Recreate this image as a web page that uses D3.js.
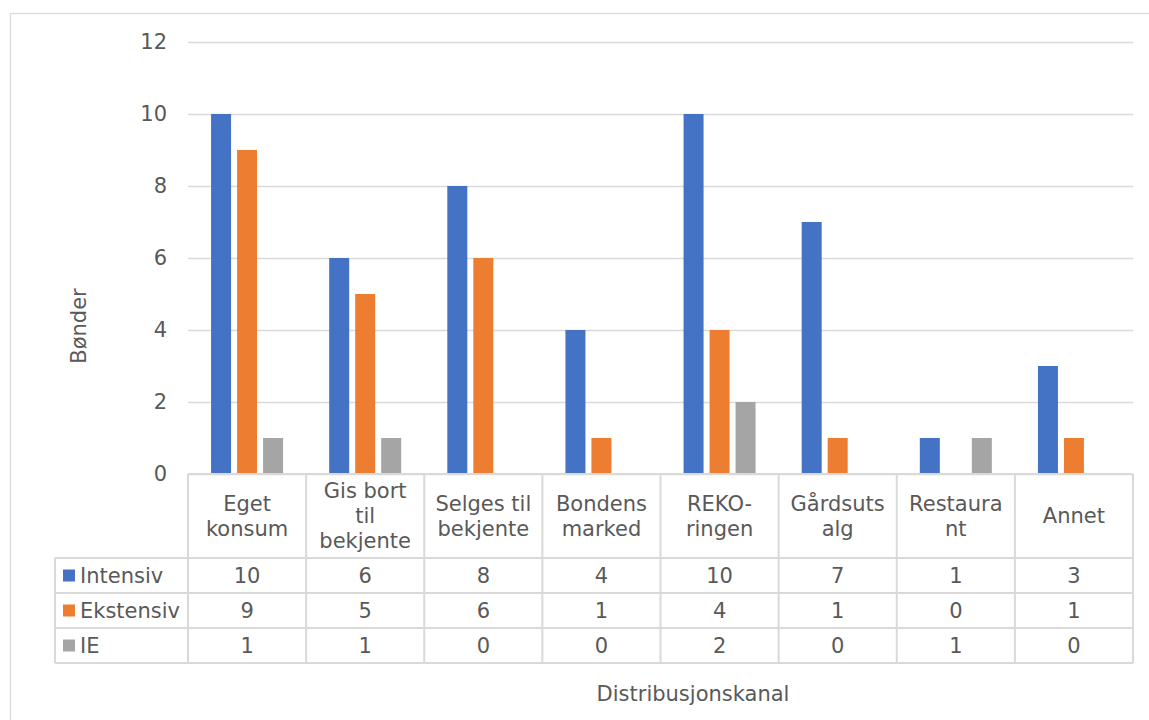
<!DOCTYPE html>
<html>
<head>
<meta charset="utf-8">
<script src="https://cdn.jsdelivr.net/npm/d3@7"></script>
<style>
  html, body { margin: 0; padding: 0; background: #fff; }
  svg { display: block; }
  text { font-family: "DejaVu Sans", Verdana, sans-serif; fill: #595959; }
</style>
</head>
<body>
<svg id="chart" width="1149" height="720"></svg>
<script>
const categories = ["Eget konsum", "Gis bort til bekjente", "Selges til bekjente", "Bondens marked", "REKO-ringen", "Gårdsutsalg", "Restaurant", "Annet"];
const categoryLines = [["Eget", "konsum"], ["Gis bort", "til", "bekjente"], ["Selges til", "bekjente"], ["Bondens", "marked"], ["REKO-", "ringen"], ["Gårdsuts", "alg"], ["Restaura", "nt"], ["Annet"]];
const seriesNames = ["Intensiv", "Ekstensiv", "IE"];
const intensiv = [10, 6, 8, 4, 10, 7, 1, 3];
const ekstensiv = [9, 5, 6, 1, 4, 1, 0, 1];
const ie = [1, 1, 0, 0, 2, 0, 1, 0];
const yTicks = [0, 2, 4, 6, 8, 10, 12];
const yTitle = "Bønder";
const xTitle = "Distribusjonskanal";

const seriesValues = [intensiv, ekstensiv, ie];
const colors = ["#4472C4", "#ED7D31", "#A5A5A5"];
const gridColor = "#d9d9d9";
const fontSize = 21;

const svg = d3.select("#chart");

// outer chart border
svg.append("rect").attr("x", 10.5).attr("y", 13.5).attr("width", 1200).attr("height", 800)
  .attr("fill", "none").attr("stroke", gridColor).attr("stroke-width", 1.3);

const plotLeft = 188, plotRight = 1133, plotTop = 42, plotBottom = 474;
const x = d3.scaleBand().domain(categories).range([plotLeft, plotRight]).paddingInner(0).paddingOuter(0);
const y = d3.scaleLinear().domain([0, 12]).range([plotBottom, plotTop]);
const groupW = 72;
const x1 = d3.scaleBand().domain(seriesNames).range([0, groupW]).paddingInner(6 / 26).paddingOuter(0);

// gridlines
const yAxis = d3.axisLeft(y).tickValues(yTicks).tickSize(-(plotRight - plotLeft)).tickPadding(21);
const gy = svg.append("g").attr("transform", `translate(${plotLeft},0)`).call(yAxis);
gy.select(".domain").remove();
gy.selectAll(".tick line").attr("stroke", gridColor).attr("stroke-width", 1.5);
gy.selectAll(".tick text").attr("font-size", fontSize).attr("fill", "#595959")
  .style("font-family", "'DejaVu Sans', Verdana, sans-serif");

// bars
seriesNames.forEach((s, si) => {
  svg.append("g").selectAll("rect")
    .data(categories.map((c, i) => ({ c, v: seriesValues[si][i] })))
    .join("rect")
    .attr("x", d => x(d.c) + (x.bandwidth() - groupW) / 2 + x1(s))
    .attr("width", x1.bandwidth())
    .attr("y", d => y(d.v))
    .attr("height", d => y(0) - y(d.v))
    .attr("fill", colors[si]);
});

// data table
const headerBottom = 558, rowH = 35, tableLeft = 55;
const rowTops = seriesNames.map((s, i) => headerBottom + i * rowH);
const tableBottom = headerBottom + seriesNames.length * rowH;
const tg = svg.append("g").attr("stroke", gridColor).attr("stroke-width", 2);
// horizontal lines
tg.append("line").attr("x1", plotLeft).attr("x2", plotRight).attr("y1", plotBottom).attr("y2", plotBottom);
[headerBottom, ...rowTops.map(t => t + rowH)].forEach(yy => {
  tg.append("line").attr("x1", tableLeft).attr("x2", plotRight).attr("y1", yy).attr("y2", yy);
});
// vertical lines
tg.append("line").attr("x1", tableLeft).attr("x2", tableLeft).attr("y1", headerBottom).attr("y2", tableBottom);
categories.forEach(c => {
  const xx = x(c);
  tg.append("line").attr("x1", xx).attr("x2", xx).attr("y1", plotBottom).attr("y2", tableBottom);
});
tg.append("line").attr("x1", plotRight).attr("x2", plotRight).attr("y1", plotBottom).attr("y2", tableBottom);

// header labels
const headerMid = (plotBottom + headerBottom) / 2;
categories.forEach((c, i) => {
  const lines = categoryLines[i];
  const t = svg.append("text").attr("text-anchor", "middle").attr("font-size", fontSize);
  lines.forEach((ln, li) => {
    t.append("tspan").attr("x", x(c) + x.bandwidth() / 2)
      .attr("y", headerMid + (li - (lines.length - 1) / 2) * 25)
      .attr("dy", "0.35em").text(ln);
  });
});

// rows
seriesNames.forEach((s, si) => {
  const top = rowTops[si];
  const mid = top + rowH / 2;
  svg.append("rect").attr("x", 63).attr("y", mid - 6).attr("width", 12).attr("height", 12).attr("fill", colors[si]);
  svg.append("text").attr("x", 80).attr("y", mid).attr("dy", "0.35em").attr("font-size", fontSize).text(s);
  categories.forEach((c, i) => {
    svg.append("text").attr("x", x(c) + x.bandwidth() / 2).attr("y", mid).attr("dy", "0.35em")
      .attr("text-anchor", "middle").attr("font-size", fontSize).text(seriesValues[si][i]);
  });
});

// axis titles
svg.append("text").attr("transform", "translate(86,326) rotate(-90)").attr("text-anchor", "middle")
  .attr("font-size", fontSize).text(yTitle);
svg.append("text").attr("x", 693).attr("y", 701).attr("text-anchor", "middle")
  .attr("font-size", fontSize).text(xTitle);
</script>
</body>
</html>
